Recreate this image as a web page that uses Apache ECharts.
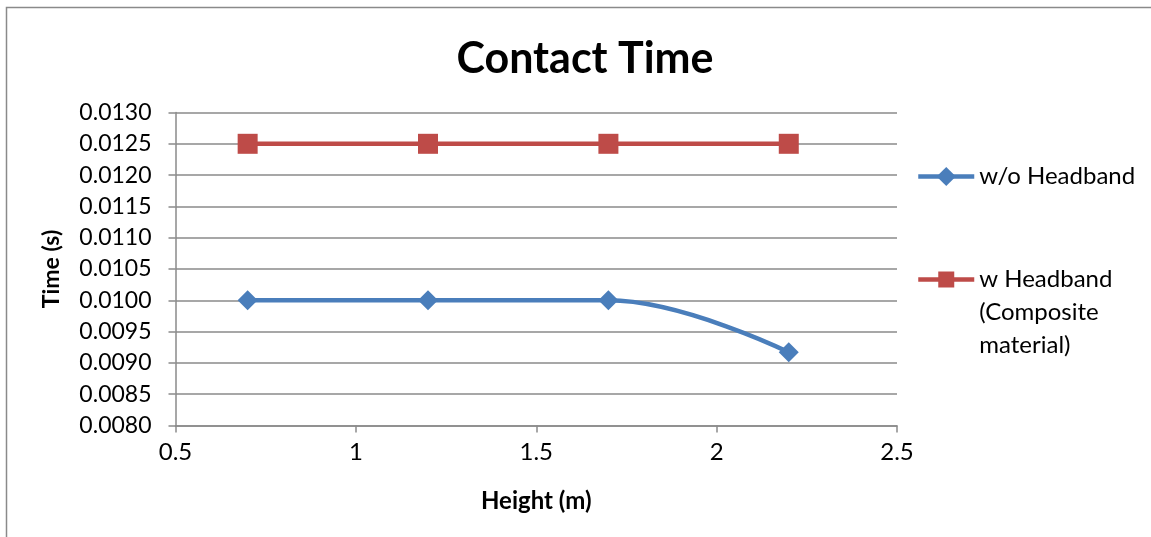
<!DOCTYPE html>
<html>
<head>
<meta charset="utf-8">
<script src="https://cdn.jsdelivr.net/npm/echarts@6/dist/echarts.min.js"></script>
<style>html,body{margin:0;padding:0;background:#fff}#c{width:1151px;height:537px}</style>
</head>
<body>
<div id="c"></div>
<script>
const heights = [0.7, 1.2, 1.7, 2.2];
const woHeadband = [0.0100, 0.0100, 0.0100, 0.00917];
const wHeadband = [0.0125, 0.0125, 0.0125, 0.0125];
const seriesNames = ['w/o Headband', 'w Headband\n(Composite\nmaterial)'];
const titleText = 'Contact Time';
const xName = 'Height (m)';
const yName = 'Time (s)';

const FONT = 'Lato';
const chart = echarts.init(document.getElementById('c'), null, {renderer: 'canvas'});
const toPts = (xs, ys) => xs.map((x, i) => [x, ys[i]]);
chart.setOption({
  animation: false,
  backgroundColor: '#fff',
  textStyle: {fontFamily: FONT},
  graphic: [{
    type: 'rect', shape: {x: 6.5, y: 7.5, width: 1200, height: 600},
    style: {fill: 'none', stroke: '#8a8a8a', lineWidth: 1.5}, silent: true
  }],
  title: {
    text: titleText, left: 580, textAlign: 'center', top: 33,
    textStyle: {fontFamily: FONT, fontWeight: 'bold', fontSize: 43, color: '#000'}
  },
  legend: [{
    data: [seriesNames[0]], left: 911, top: 155, itemWidth: 56, itemHeight: 24, itemGap: 0,
    lineStyle: {width: 4.5},
    textStyle: {fontFamily: FONT, fontSize: 24, color: '#000', lineHeight: 33}
  }, {
    data: [seriesNames[1]], left: 911, top: 192, itemWidth: 56, itemHeight: 20,
    lineStyle: {width: 4.5},
    formatter: name => '\n\n' + name,
    textStyle: {fontFamily: FONT, fontSize: 24, color: '#000', lineHeight: 33}
  }],
  grid: {left: 175.5, right: 254, top: 112.5, bottom: 111.5, containLabel: false},
  xAxis: {
    type: 'value', min: 0.5, max: 2.5, interval: 0.5,
    name: xName, nameLocation: 'middle', nameGap: 64,
    nameTextStyle: {fontFamily: FONT, fontWeight: 'bold', fontSize: 24, color: '#000'},
    axisLine: {show: true, lineStyle: {color: '#8a8a8a', width: 1.5}},
    axisTick: {show: true, length: 7, lineStyle: {color: '#8a8a8a', width: 1.5}},
    axisLabel: {fontFamily: FONT, fontSize: 24, color: '#000', margin: 15,
      formatter: v => String(Math.round(v * 10) / 10)},
    splitLine: {show: false}
  },
  yAxis: {
    type: 'value', min: 0.008, max: 0.013, interval: 0.0005,
    name: yName, nameLocation: 'middle', nameGap: 112, nameRotate: 90,
    nameTextStyle: {fontFamily: FONT, fontWeight: 'bold', fontSize: 23, color: '#000'},
    axisLine: {show: true, lineStyle: {color: '#8a8a8a', width: 1.5}},
    axisTick: {show: true, length: 7, lineStyle: {color: '#8a8a8a', width: 1.5}},
    axisLabel: {fontFamily: FONT, fontSize: 23, color: '#000', margin: 24,
      formatter: v => v.toFixed(4)},
    splitLine: {show: true, lineStyle: {color: '#8a8a8a', width: 1.5}}
  },
  series: [{
    name: seriesNames[0], type: 'line', data: toPts(heights, woHeadband),
    smooth: 0.4, symbol: 'diamond', symbolSize: 20,
    lineStyle: {color: '#4a7ebb', width: 4.5},
    itemStyle: {color: '#4a7ebb'}
  }, {
    name: seriesNames[1], type: 'line', data: toPts(heights, wHeadband),
    smooth: false, symbol: 'rect', symbolSize: 20,
    lineStyle: {color: '#be4b48', width: 4.5},
    itemStyle: {color: '#be4b48'}
  }]
});
</script>
</body>
</html>
